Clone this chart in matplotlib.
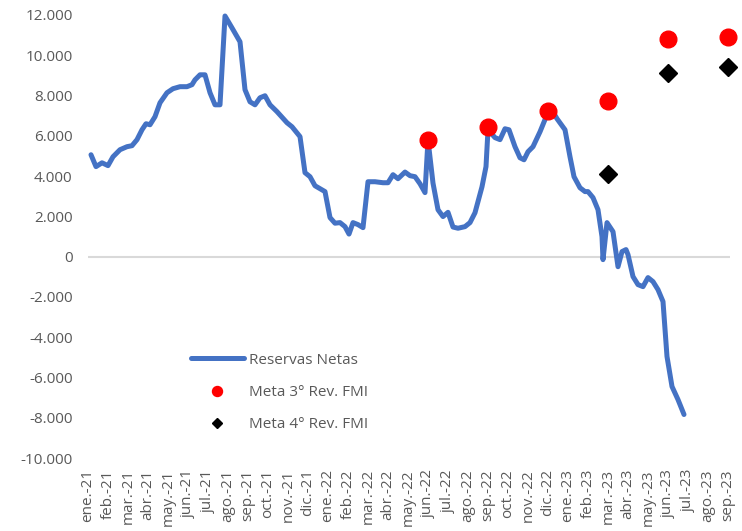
import matplotlib.pyplot as plt

months = ['ene.-21', 'feb.-21', 'mar.-21', 'abr.-21', 'may.-21', 'jun.-21', 'jul.-21', 'ago.-21',
          'sep.-21', 'oct.-21', 'nov.-21', 'dic.-21', 'ene.-22', 'feb.-22', 'mar.-22', 'abr.-22',
          'may.-22', 'jun.-22', 'jul.-22', 'ago.-22', 'sep.-22', 'oct.-22', 'nov.-22', 'dic.-22',
          'ene.-23', 'feb.-23', 'mar.-23', 'abr.-23', 'may.-23', 'jun.-23', 'jul.-23', 'ago.-23',
          'sep.-23']

# reservas netas (position in months since ene.-21, value in USD mn)
res_pos = [0.15, 0.40, 0.70, 1.00, 1.25, 1.60, 1.95, 2.20, 2.45, 2.70, 2.90, 3.10, 3.35, 3.60,
           3.95, 4.25, 4.60, 4.95, 5.20, 5.35, 5.60, 5.85, 6.10, 6.35, 6.60, 6.85, 7.20, 7.60,
           7.85, 8.10, 8.35, 8.60, 8.85, 9.10, 9.45, 9.95, 10.20, 10.60, 10.85, 11.10, 11.35,
           11.85, 12.10, 12.35, 12.60, 12.85, 13.05, 13.25, 13.50, 13.75, 14.00, 14.35, 14.75,
           15.00, 15.25, 15.50, 15.85, 16.10, 16.35, 16.60, 16.85, 17.00, 17.25, 17.50, 17.75,
           18.00, 18.25, 18.50, 18.85, 19.10, 19.35, 19.70, 19.90, 20.00, 20.35, 20.60, 20.85,
           21.05, 21.35, 21.60, 21.80, 22.00, 22.25, 22.60, 22.95, 23.10, 23.45, 23.85, 24.10,
           24.30, 24.60, 24.85, 25.00, 25.25, 25.50, 25.70, 25.75, 25.95, 26.25, 26.50, 26.70,
           26.90, 27.00, 27.25, 27.50, 27.75, 28.00, 28.25, 28.50, 28.75, 28.95, 29.20, 29.50,
           29.80]
res_val = [5060, 4470, 4660, 4520, 4960, 5310, 5460, 5510, 5810, 6300, 6600, 6550, 6950, 7640,
           8140, 8340, 8440, 8440, 8540, 8780, 9030, 9030, 8140, 7540, 7540, 11950, 11360, 10670,
           8290, 7690, 7540, 7890, 7990, 7540, 7200, 6650, 6450, 5960, 4170, 3970, 3520,
           3230, 1940, 1660, 1690, 1490, 1120, 1690, 1590, 1440, 3720, 3720, 3670,
           3670, 4070, 3870, 4200, 4020, 3970, 3620, 3180, 5800, 3650, 2330, 1990,
           2200, 1470, 1410, 1490, 1690, 2180, 3470, 4470, 6300, 5910, 5810, 6350,
           6300, 5460, 4910, 4810, 5210, 5460, 6200, 7050, 7440, 6850, 6300, 4960,
           3970, 3420, 3230, 3230, 2930, 2330, 990, -150, 1690, 1240, -500, 250,
           350, 100, -990, -1390, -1490, -1040, -1240, -1640, -2230, -4960, -6450, -7100,
           -7840]

meta3_pos = [17, 20, 23, 26, 29, 32]
meta3_val = [5800, 6450, 7250, 7740, 10820, 10920]
meta4_pos = [26, 29, 32]
meta4_val = [4120, 9130, 9430]

plt.rcParams['font.family'] = ['Open Sans', 'DejaVu Sans']

fig = plt.figure(figsize=(7.42, 5.31), dpi=100)
ax = fig.add_axes([88 / 742, 1 - 458 / 531, (730 - 88) / 742, (458 - 15) / 531])

ax.axhline(0, color='#d9d9d9', lw=1.5, zorder=1)
ax.plot(res_pos, res_val, color='#4472C4', lw=3.6, solid_joinstyle='round',
        solid_capstyle='round', label='Reservas Netas', zorder=3, clip_on=False)
ax.plot(meta3_pos, meta3_val, 'o', color='#ff0000', ms=12, label='Meta 3° Rev. FMI',
        zorder=4, clip_on=False)
ax.plot(meta4_pos, meta4_val, 'D', color='black', ms=9, label='Meta 4° Rev. FMI',
        zorder=4, clip_on=False)

ax.set_xlim(0, 32.1)
ax.set_ylim(-10000, 12000)
ax.set_yticks(range(-10000, 12001, 2000))
ax.set_yticklabels([f'{v:,}'.replace(',', '.') for v in range(-10000, 12001, 2000)])
ax.set_xticks(range(len(months)))
ax.set_xticklabels(months, rotation=90)
ax.tick_params(axis='both', length=0, colors='#595959', labelsize=11)
ax.tick_params(axis='x', pad=8)
ax.tick_params(axis='y', pad=11)
for s in ax.spines.values():
    s.set_visible(False)

leg = ax.legend(loc='upper left', bbox_to_anchor=(177 / 742, 1 - 339 / 531),
                bbox_transform=fig.transFigure, frameon=False, fontsize=11,
                handlelength=3.5, labelspacing=1.12, markerscale=0.6, handletextpad=0.3)
for t in leg.get_texts():
    t.set_color('#595959')

fig.savefig('out.png', dpi=100)
